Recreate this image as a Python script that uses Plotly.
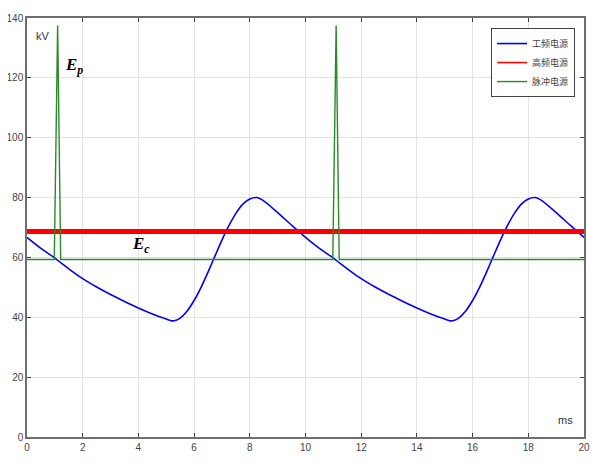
#!/usr/bin/env python3

import sys

import plotly.graph_objects as go


# time axis (ms) for the power-frequency supply voltage
time_ms = [0.0, 0.5, 1.0, 1.5, 2.0, 2.5, 3.0, 3.5, 4.0, 4.5, 5.0, 5.2,
           5.35, 5.5, 5.75, 6.0, 6.25, 6.5, 6.75, 7.0, 7.25, 7.5, 7.75,
           8.0, 8.25, 8.5, 9.0, 9.5,
           10.0, 10.5, 11.0, 11.5, 12.0, 12.5, 13.0, 13.5, 14.0, 14.5,
           15.0, 15.2, 15.35, 15.5, 15.75, 16.0, 16.25, 16.5, 16.75,
           17.0, 17.25, 17.5, 17.75, 18.0, 18.25, 18.5, 19.0, 19.5, 20.0]

# power-frequency supply voltage (kV)
power_freq_kv = [66.7, 63.0, 59.8, 56.2, 52.9, 50.1, 47.6, 45.3, 43.1,
                 41.1, 39.4, 38.8, 39.0, 39.7, 42.1, 45.6, 50.0, 55.1,
                 60.5, 65.8, 70.6, 74.7, 77.8, 79.5, 80.0, 78.9, 75.0,
                 70.8,
                 66.7, 63.0, 59.8, 56.2, 52.9, 50.1, 47.6, 45.3, 43.1,
                 41.1, 39.4, 38.8, 39.0, 39.7, 42.1, 45.6, 50.0, 55.1,
                 60.5, 65.8, 70.6, 74.7, 77.8, 79.5, 80.0, 78.9, 75.0,
                 70.8, 66.7]

# high-frequency supply: constant level Ec
hf_time_ms = [0.0, 20.0]
hf_kv = [68.7, 68.7]

# pulse supply: base level with two narrow spikes Ep
pulse_time_ms = [0.0, 0.98, 1.1, 1.21, 10.98, 11.1, 11.21, 20.0]
pulse_kv = [59.3, 59.3, 137.5, 59.3, 59.3, 137.5, 59.3, 59.3]

series_names = ['工频电源', '高频电源', '脉冲电源']
series_colors = ['#0000ff', '#ff0000', '#2a8a2a']

x_ticks = [0, 2, 4, 6, 8, 10, 12, 14, 16, 18, 20]
y_ticks = [0, 20, 40, 60, 80, 100, 120, 140]


def main():
    fig = go.Figure()

    fig.add_trace(go.Scatter(
        x=time_ms, y=power_freq_kv, mode='lines', name=series_names[0],
        line=dict(color=series_colors[0], width=1.6, shape='spline',
                  smoothing=0.6),
    ))
    # the thick red line would give a thick legend swatch, so the legend
    # entry comes from a thin legend-only trace below
    fig.add_trace(go.Scatter(
        x=hf_time_ms, y=hf_kv, mode='lines', name=series_names[1],
        line=dict(color=series_colors[1], width=5),
        showlegend=False, legendgroup='hf',
    ))
    fig.add_trace(go.Scatter(
        x=[None], y=[None], mode='lines', name=series_names[1],
        line=dict(color=series_colors[1], width=1.6), legendgroup='hf',
    ))
    fig.add_trace(go.Scatter(
        x=pulse_time_ms, y=pulse_kv, mode='lines', name=series_names[2],
        line=dict(color=series_colors[2], width=1.4),
    ))

    axis_style = dict(
        showgrid=True, gridcolor='#e3e3e3', gridwidth=1,
        showline=True, linecolor='#6e6e6e', linewidth=1.5, mirror='ticks',
        ticks='inside', ticklen=4, tickcolor='#444', zeroline=False,
        automargin=False,
        tickfont=dict(family='Liberation Sans, Arial', size=10,
                      color='#444'),
    )

    fig.update_xaxes(range=[0, 20], tickvals=x_ticks, **axis_style)
    fig.update_yaxes(range=[0, 140], tickvals=y_ticks, **axis_style)

    # axis unit labels placed inside the plot, matlab style
    fig.add_annotation(x=0.012, y=0.977, xref='paper', yref='paper',
                       text='kV', showarrow=False, xanchor='left',
                       yanchor='top',
                       font=dict(family='Liberation Sans, Arial', size=11,
                                 color='#333'))
    fig.add_annotation(x=0.983, y=0.022, xref='paper', yref='paper',
                       text='ms', showarrow=False, xanchor='right',
                       yanchor='bottom',
                       font=dict(family='Liberation Sans, Arial', size=11,
                                 color='#333'))

    # Ep / Ec labels
    serif = dict(family='Liberation Serif, Times New Roman', size=17,
                 color='#000')
    fig.add_annotation(x=1.7, y=124, text='<b><i>E<sub>p</sub></i></b>',
                       showarrow=False, font=serif)
    fig.add_annotation(x=4.1, y=64.3, text='<b><i>E<sub>c</sub></i></b>',
                       showarrow=False, font=serif)

    # the page body adds an 8px offset, so the figure is 8px smaller
    fig.update_layout(
        width=594, height=466,
        margin=dict(l=19, r=18, t=10, b=37),
        paper_bgcolor='white', plot_bgcolor='white',
        showlegend=True,
        legend=dict(
            x=0.984, y=0.976, xanchor='right', yanchor='top',
            bgcolor='white', bordercolor='#444', borderwidth=1,
            font=dict(family='Noto Sans CJK SC', size=9, color='#444'),
            tracegroupgap=0, itemwidth=30,
        ),
    )

    fig.write_html('out.html')
    return 0


if __name__ == '__main__':
    sys.exit(main())
